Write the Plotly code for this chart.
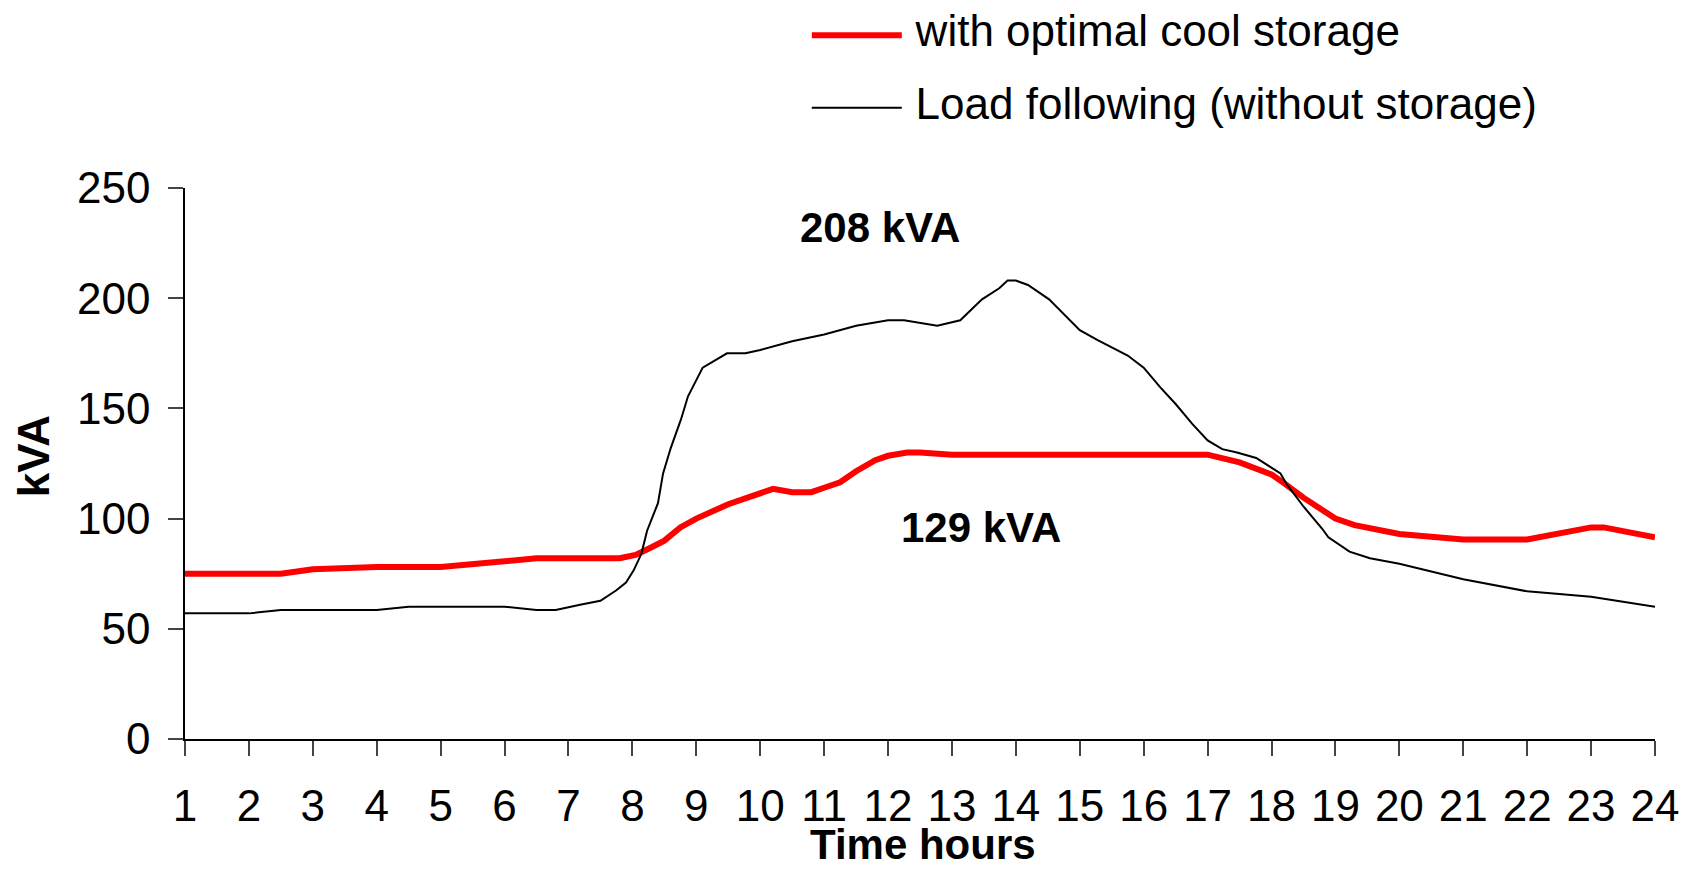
import plotly.graph_objects as go

# hours (x) and kVA readings for both operating modes
storage_hours = [1, 2, 2.5, 3, 4, 5, 6.5, 7.8, 8.05, 8.3, 8.5, 8.75, 9, 9.5, 9.75, 10,
                 10.2, 10.5, 10.8, 11, 11.25, 11.5, 11.8, 12, 12.3, 12.5, 13, 14, 15,
                 16, 17, 17.5, 18, 18.2, 18.5, 19, 19.3, 20, 21, 22, 23, 23.2, 24]
storage_kva = [75, 75, 75, 77, 78, 78, 82, 82, 83.5, 87, 90, 96, 100, 106.5, 109, 112,
               113.5, 112, 112, 114, 116.5, 121.5, 126.5, 128.5, 130, 130, 129, 129, 129,
               129, 129, 125.5, 120, 116, 109.5, 100, 97, 93, 90.5, 90.5, 96, 96, 91.5]

load_hours = [1, 2, 2.5, 4, 4.5, 6, 6.5, 6.8, 7.2, 7.5, 7.75, 7.9, 8.02, 8.14, 8.23, 8.4,
              8.48, 8.6, 8.76, 8.87, 9.1, 9.48, 9.77, 10, 10.5, 11, 11.5, 12, 12.25,
              12.77, 13.13, 13.47, 13.74, 13.87, 14, 14.19, 14.52, 14.79, 15, 15.28,
              15.75, 16, 16.26, 16.5, 16.76, 17, 17.23, 17.46, 17.76, 18.14, 18.24, 18.5,
              18.79, 18.89, 19.22, 19.54, 20, 21, 22, 23, 24]
load_kva = [57, 57, 58.5, 58.5, 60, 60, 58.5, 58.5, 61, 62.7, 67.5, 71, 76.5, 84, 94.5, 107,
            120.5, 132, 145, 155.5, 168.5, 175, 175, 176.5, 180.5, 183.5, 187.5, 190, 190,
            187.5, 190, 199.5, 204.5, 208, 208, 206, 199.5, 191.5, 185.5, 181, 174, 168.5,
            159.5, 152, 143, 135.5, 131.5, 130, 127.5, 120.5, 115.5, 105.5, 95.5, 91.5, 85,
            82, 79.5, 72.5, 67, 64.5, 60]

hour_ticks = list(range(1, 25))
kva_ticks = [0, 50, 100, 150, 200, 250]

FONT = "Liberation Sans, Arial, sans-serif"


def big(label):
    # legend rows are sized from the legend font; render the label itself larger
    return f"<span style='font-size:44px'>\u2009{label}</span>"


fig = go.Figure()
fig.add_trace(go.Scatter(x=storage_hours, y=storage_kva, mode="lines",
                         name=big("with optimal cool storage"), legendgroup="a",
                         line=dict(color="#ff0000", width=6)))
fig.add_trace(go.Scatter(x=load_hours, y=load_kva, mode="lines",
                         name=big("Load following (without storage)"), legendgroup="b",
                         line=dict(color="black", width=2)))

# peak labels
fig.add_annotation(x=11.875, y=232, text="<b>208 kVA</b>", showarrow=False,
                   font=dict(family=FONT, size=42, color="black"))
fig.add_annotation(x=13.46, y=96, text="<b>129 kVA</b>", showarrow=False,
                   font=dict(family=FONT, size=42, color="black"))

# axis titles, placed by hand to sit tight against the tick labels
fig.add_annotation(xref="paper", yref="paper", x=0.502, y=-0.191, text="<b>Time hours</b>",
                   xanchor="center", yanchor="middle", showarrow=False,
                   font=dict(family=FONT, size=42, color="black"))
fig.add_annotation(xref="paper", yref="paper", x=-0.1034, y=0.513, text="<b>kVA</b>",
                   xanchor="center", yanchor="middle", textangle=-90, showarrow=False,
                   font=dict(family=FONT, size=44, color="black"))

# the page body adds an 8px offset, so the figure is 8px smaller than the window
fig.update_layout(
    width=1681, height=862,
    margin=dict(l=177, r=34, t=180, b=131),
    plot_bgcolor="white", paper_bgcolor="white",
    font=dict(family=FONT, size=44, color="black"),
    legend=dict(x=0.423, y=0.997, xanchor="left", yanchor="top", yref="container",
                bgcolor="rgba(0,0,0,0)", tracegroupgap=33, itemwidth=90,
                font=dict(size=28)),
    xaxis=dict(range=[1, 24], tickvals=hour_ticks, showgrid=False, zeroline=False,
               showline=True, linecolor="black", linewidth=1.5, automargin=False,
               ticks="outside", ticklen=15, tickcolor="#444", tickwidth=1.5,
               ticklabelstandoff=12),
    yaxis=dict(range=[0, 250], tickvals=kva_ticks, showgrid=False, zeroline=False,
               showline=True, linecolor="black", linewidth=1.5, automargin=False,
               ticks="outside", ticklen=15, tickcolor="#444", tickwidth=1.5,
               ticklabelstandoff=9),
)

fig.write_html("out.html")
